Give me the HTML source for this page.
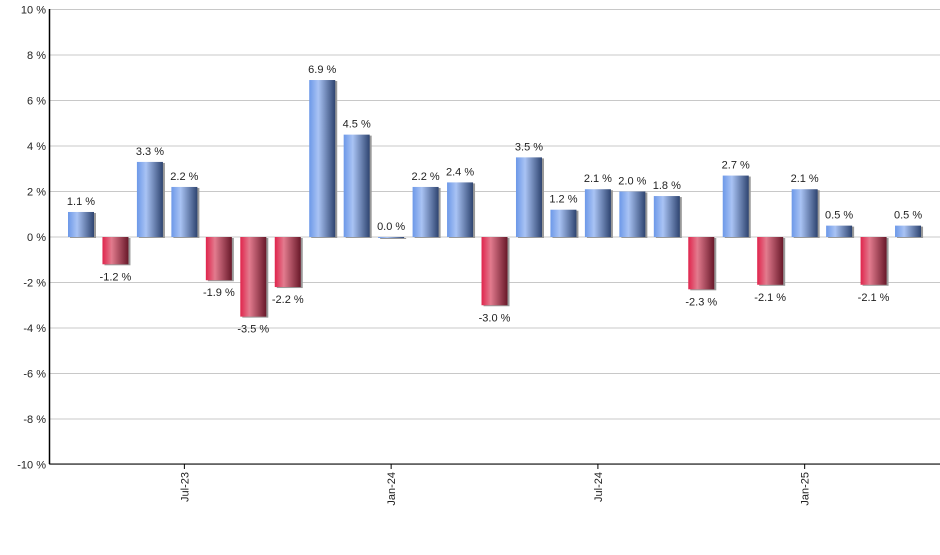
<!DOCTYPE html>
<html><head><meta charset="utf-8"><style>
body{margin:0;background:#fff;font-family:"Liberation Sans",sans-serif}
svg text{font-family:"Liberation Sans",sans-serif;font-size:11px;fill:#222}
</style></head><body>
<svg id="c" width="940" height="550">
<defs>
<linearGradient id="gb" x1="0" x2="1" y1="0" y2="0"><stop offset="0" stop-color="#6c98e8"/><stop offset="0.35" stop-color="#a9c3f4"/><stop offset="1" stop-color="#2e4470"/></linearGradient>
<linearGradient id="gr" x1="0" x2="1" y1="0" y2="0"><stop offset="0" stop-color="#e0244c"/><stop offset="0.35" stop-color="#e27b8e"/><stop offset="1" stop-color="#681829"/></linearGradient>
</defs>
</svg>
<script>
const values=[1.1,-1.2,3.3,2.2,-1.9,-3.5,-2.2,6.9,4.5,0.0,2.2,2.4,-3.0,3.5,1.2,2.1,2.0,1.8,-2.3,2.7,-2.1,2.1,0.5,-2.1,0.5];
const yTicks=[10,8,6,4,2,0,-2,-4,-6,-8,-10];
const xLabels=[{i:3,t:"Jul-23"},{i:9,t:"Jan-24"},{i:15,t:"Jul-24"},{i:21,t:"Jan-25"}];
const svg=document.getElementById('c');const NS='http://www.w3.org/2000/svg';
const y=v=>237-v*22.75;const x=i=>81+i*34.46;
function mk(tag,a,p){const e=document.createElementNS(NS,tag);for(const k in a)e.setAttribute(k,a[k]);(p||svg).appendChild(e);return e;}
yTicks.forEach(v=>{
 const g=mk('line',{x1:50,x2:940,y1:y(v),y2:y(v),stroke:'#c8c8c8','stroke-width':1});
 
 
 const t=mk('text',{x:46,y:y(v)+4,'text-anchor':'end'});t.textContent=v+' %';
 
 
});
const ax=mk('line',{x1:49.5,x2:49.5,y1:9,y2:464,stroke:'#000','stroke-width':1.5});


const bx=mk('line',{x1:49,x2:940,y1:464,y2:464,stroke:'#000','stroke-width':1});


values.forEach((v,i)=>{
 const cx=x(i),top=Math.min(y(v),y(0)),h=Math.max(Math.abs(y(v)-y(0)),1);
 const s=mk('rect',{x:cx-13+2,y:top+1,width:26,height:h,fill:'#999'});
 
 
 const r=mk('rect',{x:cx-13,y:top,width:26,height:h,fill:v>=0?'url(#gb)':'url(#gr)'});
 
 
 const t=mk('text',{x:cx,y:v>=0?y(v)-7:y(v)+16,'text-anchor':'middle'});
 t.textContent=v.toFixed(1)+' %';
 
 
});
xLabels.forEach(l=>{
 const cx=x(l.i);
 const tk=mk('line',{x1:cx,x2:cx,y1:464,y2:469,stroke:'#000'});
 
 
 const t=mk('text',{x:0,y:0,'text-anchor':'end',transform:`translate(${cx+4},472) rotate(-90)`});
 t.textContent=l.t;
 
 
});
</script>
</body></html>
